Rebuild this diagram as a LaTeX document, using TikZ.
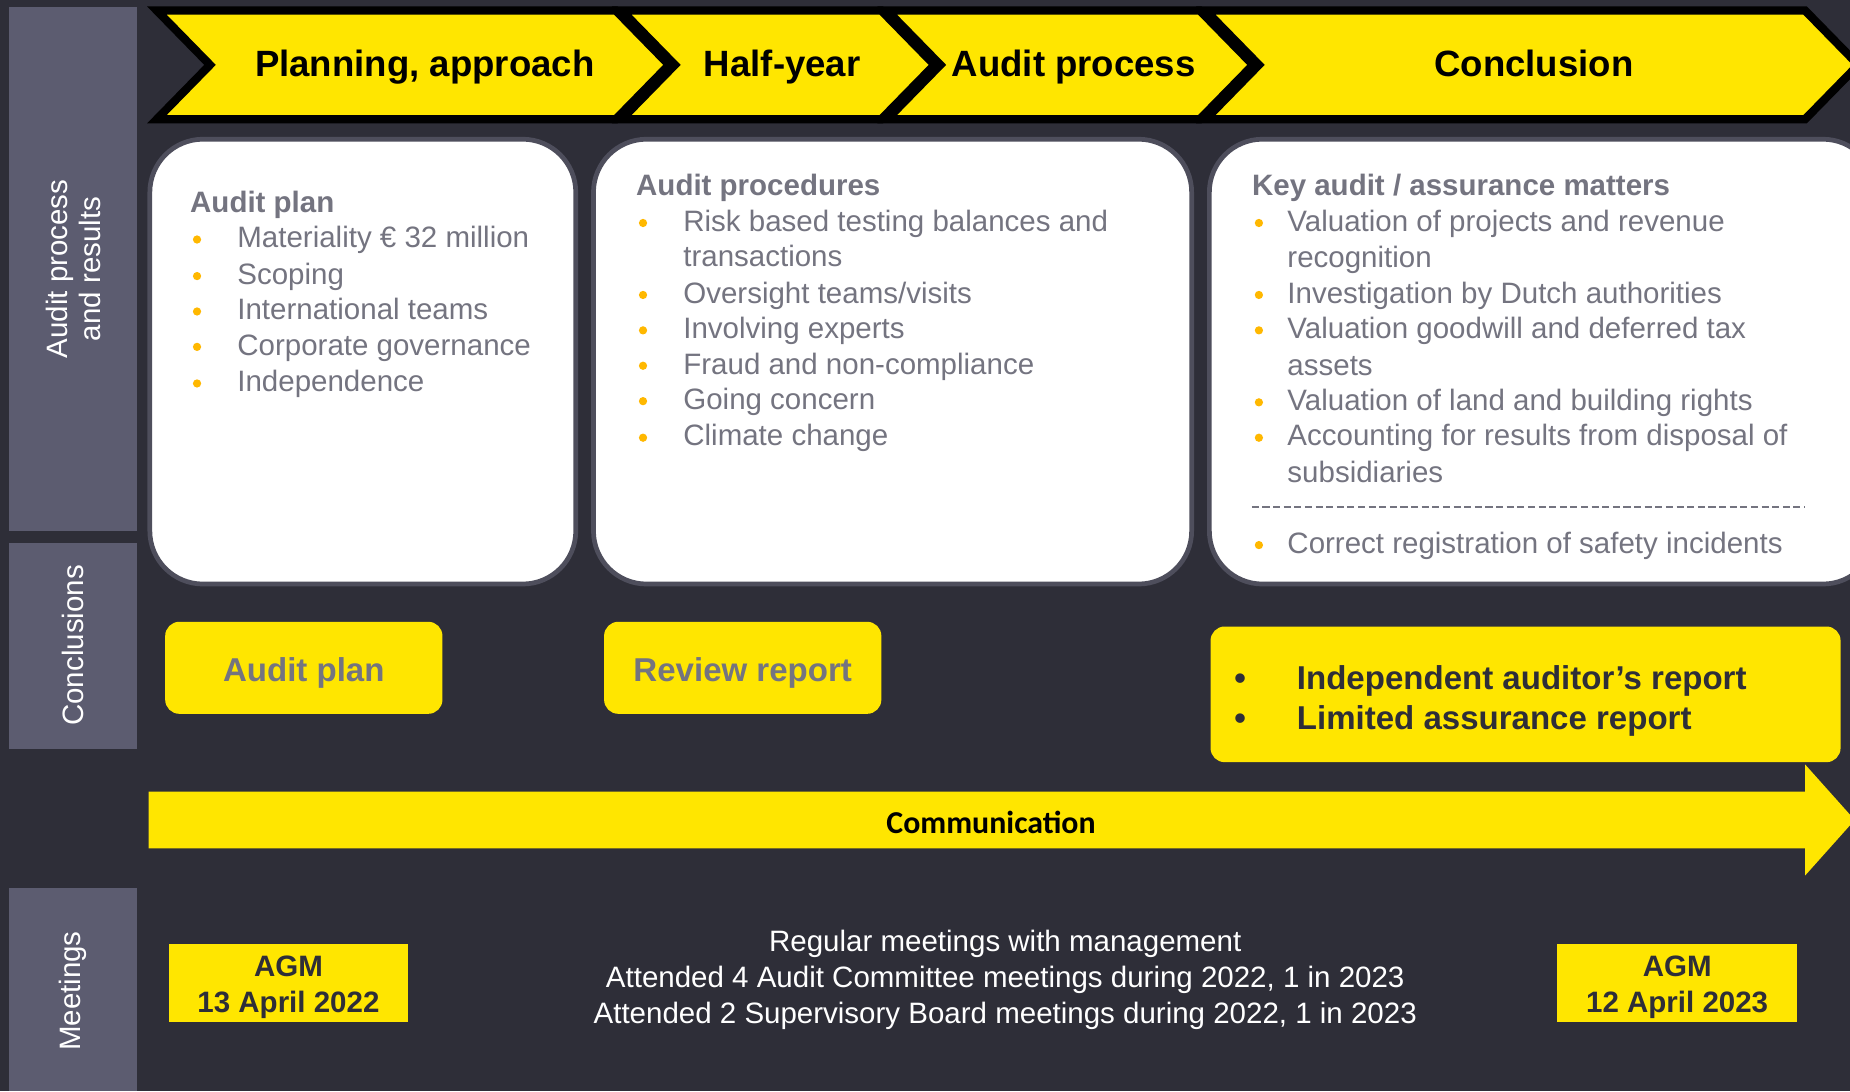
\documentclass[tikz,border=0pt]{standalone}
\usepackage{fontspec}
\setmainfont{Liberation Sans}
\newfontfamily\calib{Carlito}
\definecolor{bg}{HTML}{2E2E38}
\definecolor{side}{HTML}{5C5C70}
\definecolor{eyy}{HTML}{FFE600}
\definecolor{txtg}{HTML}{747480}
\definecolor{bul}{HTML}{FFB800}
\definecolor{rim}{HTML}{4E4E5C}
\tikzset{
  body/.style={anchor=base west, inner sep=0pt, text=txtg, font=\fontsize{25}{30}\selectfont},
  head/.style={body, font=\fontsize{25}{30}\selectfont\bfseries},
  dot/.style={circle, fill=bul, inner sep=0pt, minimum size=7pt},
  chev/.style={fill=eyy, draw=black, line width=7pt, line join=miter},
  chevtxt/.style={anchor=base, inner sep=0pt, text=black, font=\fontsize{31}{36}\selectfont\bfseries},
  sidelbl/.style={rotate=90, text=white, align=center, inner sep=0pt, font=\fontsize{25}{28}\selectfont},
  wbox/.style={draw=rim, line width=4pt, fill=white, rounded corners=45pt},
  ybox/.style={fill=eyy, rounded corners=12pt},
  ytxt/.style={inner sep=0pt, text=txtg, font=\fontsize{28}{32}\selectfont\bfseries},
  rtxt/.style={anchor=base west, inner sep=0pt, text=bg, font=\fontsize{28}{32}\selectfont\bfseries},
  agm/.style={anchor=base, inner sep=0pt, text=bg, font=\fontsize{25}{30}\selectfont\bfseries},
  meet/.style={inner sep=0pt, align=center, text=white, font=\fontsize{25}{30.5}\selectfont},
}
\newcommand\chevron[2]{%
  \draw[chev] (#1,9) -- (#2,9) -- (#2+45,55) -- (#2,101) -- (#1,101) -- (#1+45,55) -- cycle;}
\newcommand\li[4]{\node[body] (#1) at (#2,#3) {#4};}
\newcommand\bu[3]{\node[dot] (#1) at (#2,#3-7) {};}
\begin{document}
\begin{tikzpicture}[x=1pt,y=-1pt]
\useasboundingbox (0,0) rectangle (1568,925);
\clip (0,0) rectangle (1568,925);
\fill[bg] (0,0) rectangle (1568,925);
% side bars
\fill[side] (8,6) rectangle (116,450);
\fill[side] (8,460) rectangle (116,635);
\fill[side] (8,753) rectangle (116,925);
\node[sidelbl] (s1) at (62,228) {Audit process\\and results};
\node[sidelbl] (s2) at (62,547) {Conclusions};
\node[sidelbl] (s3) at (62,840) {Meetings};
% chevrons
\chevron{133}{522}
\chevron{527}{747}
\chevron{752}{1017}
\chevron{1022}{1530}
\node[chevtxt] (c1) at (360,65) {Planning, approach};
\node[chevtxt] (c2) at (663,65) {Half-year};
\node[chevtxt] (c3) at (910,65) {Audit process};
\node[chevtxt] (c4) at (1300,65) {Conclusion};
% white boxes
\draw[wbox] (127,118) rectangle (488,495);
\draw[wbox] (503,118) rectangle (1010,495);
\draw[wbox] (1025,118) rectangle (1590,495);
% box 1
\node[head] (h1) at (161,180) {Audit plan};
\bu{d11}{167}{210}\li{t11}{201}{210}{Materiality € 32 million}
\bu{d12}{167}{241}\li{t12}{201}{241}{Scoping}
\bu{d13}{167}{271}\li{t13}{201}{271}{International teams}
\bu{d14}{167}{301}\li{t14}{201}{301}{Corporate governance}
\bu{d15}{167}{332}\li{t15}{201}{332}{Independence}
% box 2
\node[head] (h2) at (539,166) {Audit procedures};
\bu{d21}{545}{196}\li{t21}{579}{196}{Risk based testing balances and}
\li{t21b}{579}{226}{transactions}
\bu{d22}{545}{257}\li{t22}{579}{257}{Oversight teams/visits}
\bu{d23}{545}{287}\li{t23}{579}{287}{Involving experts}
\bu{d24}{545}{317}\li{t24}{579}{317}{Fraud and non-compliance}
\bu{d25}{545}{347}\li{t25}{579}{347}{Going concern}
\bu{d26}{545}{378}\li{t26}{579}{378}{Climate change}
% box 3
\node[head] (h3) at (1061,166) {Key audit / assurance matters};
\bu{d31}{1067}{196}\li{t31}{1091}{196}{Valuation of projects and revenue}
\li{t31b}{1091}{227}{recognition}
\bu{d32}{1067}{257}\li{t32}{1091}{257}{Investigation by Dutch authorities}
\bu{d33}{1067}{287}\li{t33}{1091}{287}{Valuation goodwill and deferred tax}
\li{t33b}{1091}{318}{assets}
\bu{d34}{1067}{348}\li{t34}{1091}{348}{Valuation of land and building rights}
\bu{d35}{1067}{378}\li{t35}{1091}{378}{Accounting for results from disposal of}
\li{t35b}{1091}{409}{subsidiaries}
\draw[txtg, line width=1.5pt, dash pattern=on 6pt off 3pt] (1061,430) -- (1530,430);
\bu{d36}{1067}{469}\li{t36}{1091}{469}{Correct registration of safety incidents}
% conclusions
\fill[ybox] (140,527) rectangle (375,605);
\node[ytxt] (y1) at (257.5,570) {Audit plan};
\fill[ybox] (512,527) rectangle (747,605);
\node[ytxt] (y2) at (629.5,570) {Review report};
\fill[ybox] (1026,531) rectangle (1560,646);
\node[rtxt] (r0a) at (1046,584) {•};
\node[rtxt] (r1) at (1099,584) {Independent auditor’s report};
\node[rtxt] (r0b) at (1046,618) {•};
\node[rtxt] (r2) at (1099,618) {Limited assurance report};
% communication arrow
\fill[eyy] (126,671) -- (1530,671) -- (1530,648) -- (1572,695) -- (1530,742) -- (1530,719) -- (126,719) -- cycle;
\node[inner sep=0pt, text=black, font=\calib\fontsize{27}{30}\selectfont\bfseries] (comm) at (840,697) {Communication};
% meetings
\fill[eyy] (143,800) rectangle (346,866);
\node[agm] (agm1a) at (244.5,828) {AGM};
\node[agm] (agm1b) at (244.5,858) {13 April 2022};
\fill[eyy] (1320,800) rectangle (1523,866);
\node[agm] (agm2a) at (1421.5,828) {AGM};
\node[agm] (agm2b) at (1421.5,858) {12 April 2023};
\node[meet] (mt) at (852,830.5) {Regular meetings with management\\Attended 4 Audit Committee meetings during 2022, 1 in 2023\\Attended 2 Supervisory Board meetings during 2022, 1 in 2023};
\end{tikzpicture}
\end{document}
